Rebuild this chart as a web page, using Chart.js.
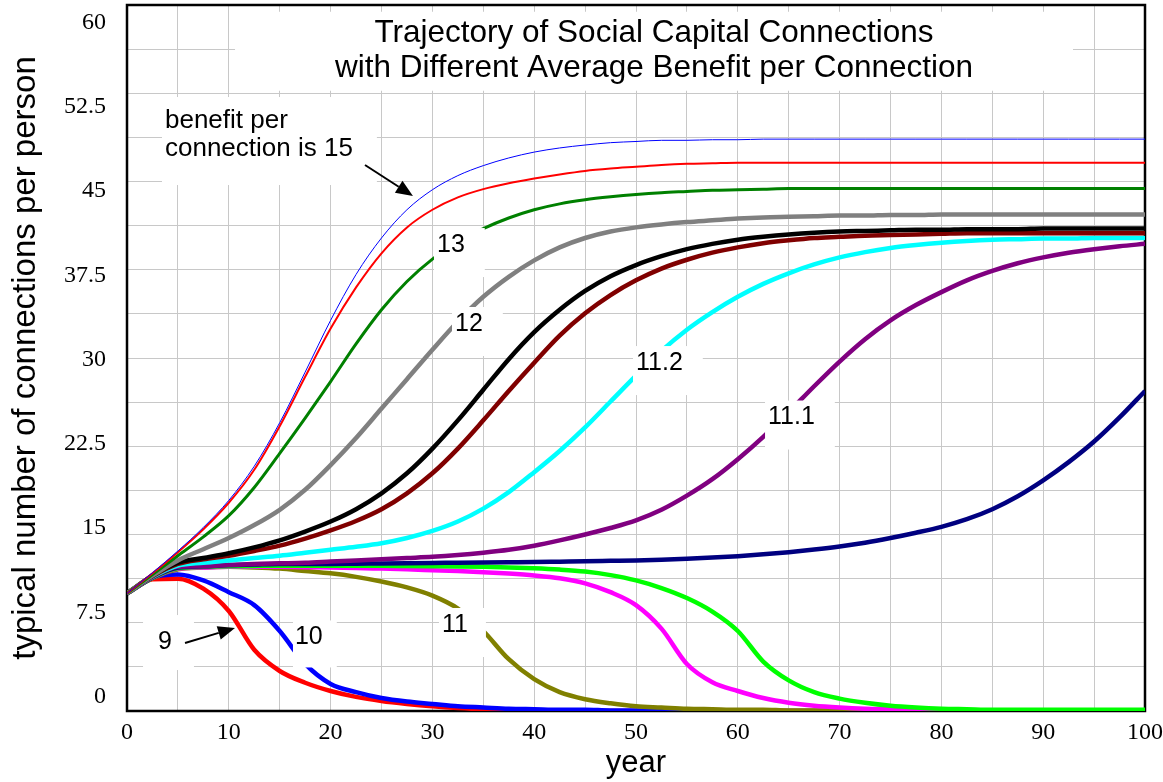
<!DOCTYPE html>
<html>
<head>
<meta charset="utf-8">
<script src="https://cdn.jsdelivr.net/npm/chart.js@4/dist/chart.umd.min.js"></script>
<style>html,body{margin:0;padding:0;background:#fff;}canvas{display:block;}</style>
</head>
<body>
<canvas id="c" width="1163" height="782"></canvas>
<script>
// ---- data ----
const years = [0,2.5,5,7.5,10,12.5,15,17.5,20,22.5,25,27.5,30,32.5,35,37.5,40,42.5,45,47.5,50,52.5,55,57.5,60,62.5,65,67.5,70,72.5,75,77.5,80,82.5,85,87.5,90,92.5,95,97.5,100];

const benefit15 = [10,11.75,13.6,15.6,17.9,20.8,24.5,28.8,33.2,37.1,40.2,42.6,44.3,45.5,46.35,47.0,47.5,47.85,48.1,48.3,48.4,48.5,48.5,48.55,48.55,48.6,48.6,48.6,48.6,48.6,48.6,48.6,48.6,48.6,48.6,48.6,48.6,48.6,48.6,48.6,48.6];
const benefit14 = [10,11.7,13.5,15.45,17.7,20.5,24.2,28.4,32.5,36.0,38.9,41.1,42.6,43.65,44.35,44.85,45.25,45.6,45.9,46.1,46.25,46.4,46.5,46.55,46.6,46.6,46.6,46.6,46.6,46.6,46.6,46.6,46.6,46.6,46.6,46.6,46.6,46.6,46.6,46.6,46.6];
const benefit13 = [10,11.6,13.2,14.8,16.6,19.0,21.9,24.9,28.0,31.2,34.1,36.5,38.4,39.9,41.0,41.9,42.6,43.1,43.45,43.7,43.9,44.05,44.15,44.25,44.3,44.35,44.4,44.4,44.4,44.4,44.4,44.4,44.4,44.4,44.4,44.4,44.4,44.4,44.4,44.4,44.4];
const benefit12 = [10,11.5,12.8,13.75,14.7,15.8,17.1,18.8,20.9,23.2,25.7,28.2,30.7,33.1,35.2,36.9,38.3,39.4,40.2,40.75,41.1,41.35,41.55,41.7,41.85,41.95,42.0,42.05,42.1,42.1,42.15,42.15,42.2,42.2,42.2,42.2,42.2,42.2,42.2,42.2,42.2];
const benefitBlack = [10,11.5,12.6,13.0,13.4,13.9,14.5,15.25,16.1,17.15,18.5,20.2,22.3,24.7,27.3,29.9,32.2,34.1,35.7,36.95,37.9,38.65,39.25,39.7,40.05,40.3,40.5,40.65,40.75,40.8,40.85,40.9,40.9,40.95,40.95,40.95,41,41,41,41,41];
const benefitMaroon = [10,11.45,12.5,12.9,13.2,13.6,14.05,14.65,15.35,16.15,17.15,18.5,20.2,22.3,24.7,27.2,29.6,31.9,33.8,35.35,36.6,37.6,38.35,38.95,39.4,39.75,40.0,40.2,40.3,40.4,40.45,40.5,40.55,40.6,40.6,40.6,40.6,40.6,40.6,40.6,40.6];
const benefit11_2 = [10,11.4,12.35,12.6,12.8,13.0,13.2,13.45,13.7,13.95,14.25,14.7,15.3,16.1,17.2,18.6,20.3,22.1,24.1,26.3,28.5,30.6,32.4,33.9,35.2,36.3,37.2,37.95,38.55,39.0,39.35,39.6,39.8,39.95,40.05,40.1,40.15,40.15,40.2,40.2,40.2];
const benefit11_1 = [10,11.35,12.25,12.3,12.4,12.5,12.55,12.6,12.7,12.8,12.9,13.0,13.1,13.25,13.45,13.7,14.05,14.5,15.0,15.55,16.2,17.1,18.3,19.7,21.4,23.3,25.4,27.6,29.7,31.6,33.2,34.5,35.6,36.6,37.4,38.05,38.55,38.95,39.25,39.5,39.7];
const benefitNavy = [10,11.35,12.2,12.3,12.4,12.45,12.5,12.5,12.5,12.52,12.54,12.56,12.58,12.6,12.62,12.64,12.66,12.69,12.72,12.76,12.8,12.86,12.94,13.04,13.16,13.32,13.5,13.72,13.98,14.3,14.7,15.15,15.65,16.3,17.15,18.25,19.6,21.15,22.9,24.95,27.2];
const benefitLime = [10,11.3,12.15,12.25,12.3,12.33,12.35,12.35,12.35,12.35,12.34,12.32,12.3,12.28,12.25,12.2,12.13,12.02,11.85,11.55,11.1,10.45,9.6,8.45,6.8,4.2,2.6,1.6,1.05,0.7,0.45,0.3,0.2,0.15,0.1,0.1,0.1,0.1,0.1,0.1,0.1];
const benefitMagenta = [10,11.3,12.1,12.2,12.25,12.25,12.25,12.22,12.2,12.16,12.1,12.04,11.97,11.9,11.8,11.68,11.52,11.28,10.85,10.1,9.0,7.0,4.0,2.45,1.7,1.1,0.7,0.45,0.3,0.2,0.15,0.1,0.08,0.05,0.05,0.05,0.05,0.05,0.05,0.05,0.05];
const benefit11 = [10,11.3,12.05,12.2,12.25,12.2,12.1,11.9,11.7,11.4,11.0,10.5,9.8,8.7,6.8,4.4,2.7,1.6,1.0,0.65,0.4,0.3,0.2,0.15,0.1,0.1,0.05,0.05,0.05,0.05,0.05,0.05,0.05,0.05,0.05,0.05,0.05,0.05,0.05,0.05,0.05];
const benefit10 = [10,11.35,11.6,11.1,10.1,9.0,6.8,4.0,2.3,1.6,1.1,0.8,0.6,0.4,0.3,0.2,0.15,0.1,0.1,0.05,0.05,0,0,0,0,0,0,0,0,0,0,0,0,0,0,0,0,0,0,0,0];
const benefit9 = [10,11.2,11.25,10.4,8.5,5.2,3.4,2.4,1.7,1.2,0.85,0.6,0.4,0.25,0.15,0.1,0.05,0.05,0,0,0,0,0,0,0,0,0,0,0,0,0,0,0,0,0,0,0,0,0,0,0];

const xTickLabels = [0,10,20,30,40,50,60,70,80,90,100];
const yTickLabels = [0,7.5,15,22.5,30,37.5,45,52.5,60];

const titleLines = ['Trajectory of Social Capital Connections','with Different Average Benefit per Connection'];
const xTitle = 'year';
const yTitle = 'typical number of connections per person';

// ---- series styling ----
const seriesDefs = [
  {label:'benefit 15', data:benefit15, color:'#0000ff', width:1},
  {label:'benefit 14', data:benefit14, color:'#ff0000', width:2},
  {label:'benefit 13', data:benefit13, color:'#008000', width:3},
  {label:'benefit 12', data:benefit12, color:'#808080', width:4.5},
  {label:'benefit (black)', data:benefitBlack, color:'#000000', width:4.5},
  {label:'benefit (maroon)', data:benefitMaroon, color:'#800000', width:4.5},
  {label:'benefit 11.2', data:benefit11_2, color:'#00ffff', width:4.5},
  {label:'benefit 11.1', data:benefit11_1, color:'#800080', width:4.5},
  {label:'benefit (navy)', data:benefitNavy, color:'#000080', width:4.5},
  {label:'benefit (lime)', data:benefitLime, color:'#00ff00', width:4.5},
  {label:'benefit (magenta)', data:benefitMagenta, color:'#ff00ff', width:4.5},
  {label:'benefit 11', data:benefit11, color:'#808000', width:4.5},
  {label:'benefit 10', data:benefit10, color:'#0000ff', width:4.5},
  {label:'benefit 9', data:benefit9, color:'#ff0000', width:4.5}
];

// annotation boxes: anchor in data coords (x = year, y = value at first-line centre)
const annotationDefs = [
  {lines:titleLines, x:51.77, y:57.6, align:'center', size:31.5, lh:35, pad:[4,100,5,100]},
  {lines:['benefit per','connection is 15'], x:3.73, y:50.14, align:'left', size:26, lh:28, pad:[10,24,22,3]},
  {lines:['13'], x:30.45, y:39.6, align:'left', size:25, lh:28, pad:[3,20,18,3]},
  {lines:['12'], x:32.22, y:32.89, align:'left', size:25, lh:28, pad:[3,20,18,3]},
  {lines:['11.2'], x:50.0, y:29.57, align:'left', size:25, lh:28, pad:[3,20,18,3]},
  {lines:['11.1'], x:62.97, y:24.94, align:'left', size:25, lh:28, pad:[3,20,18,3]},
  {lines:['11'], x:30.94, y:7.31, align:'left', size:25, lh:28, pad:[3,18,18,3]},
  {lines:['10'], x:16.5, y:6.25, align:'left', size:25, lh:28, pad:[3,14,16,2]},
  {lines:['9'], x:3.05, y:5.86, align:'left', size:25, lh:28, pad:[13,22,14,15]}
];
const arrowDefs = [
  {from:[23.38,46.4], to:[28.09,43.77]},
  {from:[5.70,5.78], to:[10.61,7.05]}
];

const framePlugin = {
  id:'frame',
  beforeDatasetsDraw(chart){
    const {ctx, chartArea:a} = chart;
    ctx.save();
    ctx.strokeStyle = '#000';
    ctx.lineWidth = 2.5;
    ctx.strokeRect(a.left, a.top, a.right - a.left, a.bottom - a.top);
    ctx.restore();
  }
};

const annotationPlugin = {
  id:'notes',
  afterDatasetsDraw(chart){
    const {ctx} = chart;
    const xs = chart.scales.x, ys = chart.scales.y;
    ctx.save();
    for (const a of annotationDefs){
      ctx.font = a.size + 'px "Liberation Sans", Arial, sans-serif';
      const px = xs.getPixelForValue(a.x), py = ys.getPixelForValue(a.y);
      const widths = a.lines.map(l => ctx.measureText(l).width);
      const w = Math.max(...widths);
      const left = a.align === 'center' ? px - w/2 : px;
      const top = py - a.lh/2;
      const h = a.lines.length * a.lh;
      ctx.fillStyle = '#fff';
      ctx.fillRect(left - a.pad[3], top - a.pad[0], w + a.pad[1] + a.pad[3], h + a.pad[0] + a.pad[2]);
      ctx.fillStyle = '#000';
      ctx.textBaseline = 'middle';
      ctx.textAlign = 'left';
      a.lines.forEach((l, i) => {
        const lx = a.align === 'center' ? px - widths[i]/2 : px;
        ctx.fillText(l, lx, py + i * a.lh);
      });
    }
    for (const ar of arrowDefs){
      const x1 = xs.getPixelForValue(ar.from[0]), y1 = ys.getPixelForValue(ar.from[1]);
      const x2 = xs.getPixelForValue(ar.to[0]), y2 = ys.getPixelForValue(ar.to[1]);
      const ang = Math.atan2(y2 - y1, x2 - x1);
      const hl = 17, hw = 7;
      const bx = x2 - hl * Math.cos(ang), by = y2 - hl * Math.sin(ang);
      ctx.strokeStyle = '#000';
      ctx.lineWidth = 2;
      ctx.beginPath(); ctx.moveTo(x1, y1); ctx.lineTo(bx, by); ctx.stroke();
      ctx.fillStyle = '#000';
      ctx.beginPath();
      ctx.moveTo(x2, y2);
      ctx.lineTo(bx + hw * Math.sin(ang), by - hw * Math.cos(ang));
      ctx.lineTo(bx - hw * Math.sin(ang), by + hw * Math.cos(ang));
      ctx.closePath(); ctx.fill();
    }
    ctx.restore();
  }
};

new Chart(document.getElementById('c'), {
  type:'line',
  data:{
    datasets: seriesDefs.map(s => ({
      label:s.label,
      data: years.map((x, i) => ({x:x, y:s.data[i]})),
      borderColor:s.color,
      backgroundColor:s.color,
      borderWidth:s.width,
      pointRadius:0,
      cubicInterpolationMode:'monotone',
      fill:false,
      yAxisID:'y'
    }))
  },
  options:{
    responsive:false,
    animation:false,
    devicePixelRatio:1,
    layout:{padding:{left:0, right:18, top:5, bottom:0}},
    plugins:{legend:{display:false}, tooltip:{enabled:false}, title:{display:false}},
    scales:{
      x:{
        type:'linear', min:0, max:100,
        ticks:{stepSize:5, autoSkip:false, maxRotation:0, minRotation:0, padding:7, color:'#000',
               font:{family:'"Liberation Serif", "Times New Roman", serif', size:24},
               callback:(v) => xTickLabels.includes(v) ? String(v) : ''},
        grid:{color:'#c8c8c8', lineWidth:1, drawTicks:false},
        border:{display:false},
        title:{display:true, text:xTitle, color:'#000',
               font:{family:'"Liberation Sans", Arial, sans-serif', size:31}, padding:{top:0, bottom:0}},
        afterFit(s){ s.height = 71; s.paddingLeft = 0; s.paddingRight = 0; }
      },
      y:{
        type:'linear', position:'left', min:0, max:60,
        ticks:{display:false, stepSize:3.75},
        grid:{color:'#c8c8c8', lineWidth:1, drawTicks:false},
        border:{display:false},
        afterFit(s){ s.width = 0; s.paddingTop = 0; s.paddingBottom = 0; }
      },
      yl:{
        type:'linear', position:'left', min:-1.291, max:61.558, bounds:'data',
        grid:{display:false, drawTicks:false},
        border:{display:false},
        afterBuildTicks(s){ s.ticks = yTickLabels.map(v => ({value:v})); },
        ticks:{autoSkip:false, padding:21, color:'#000',
               font:{family:'"Liberation Serif", "Times New Roman", serif', size:24},
               callback:(v) => String(v)},
        title:{display:true, text:yTitle, color:'#000',
               font:{family:'"Liberation Sans", Arial, sans-serif', size:33}, padding:{top:6, bottom:0}},
        afterFit(s){ s.width = 127; s.paddingTop = 0; s.paddingBottom = 0; }
      }
    }
  },
  plugins:[framePlugin, annotationPlugin]
});
</script>
</body>
</html>
